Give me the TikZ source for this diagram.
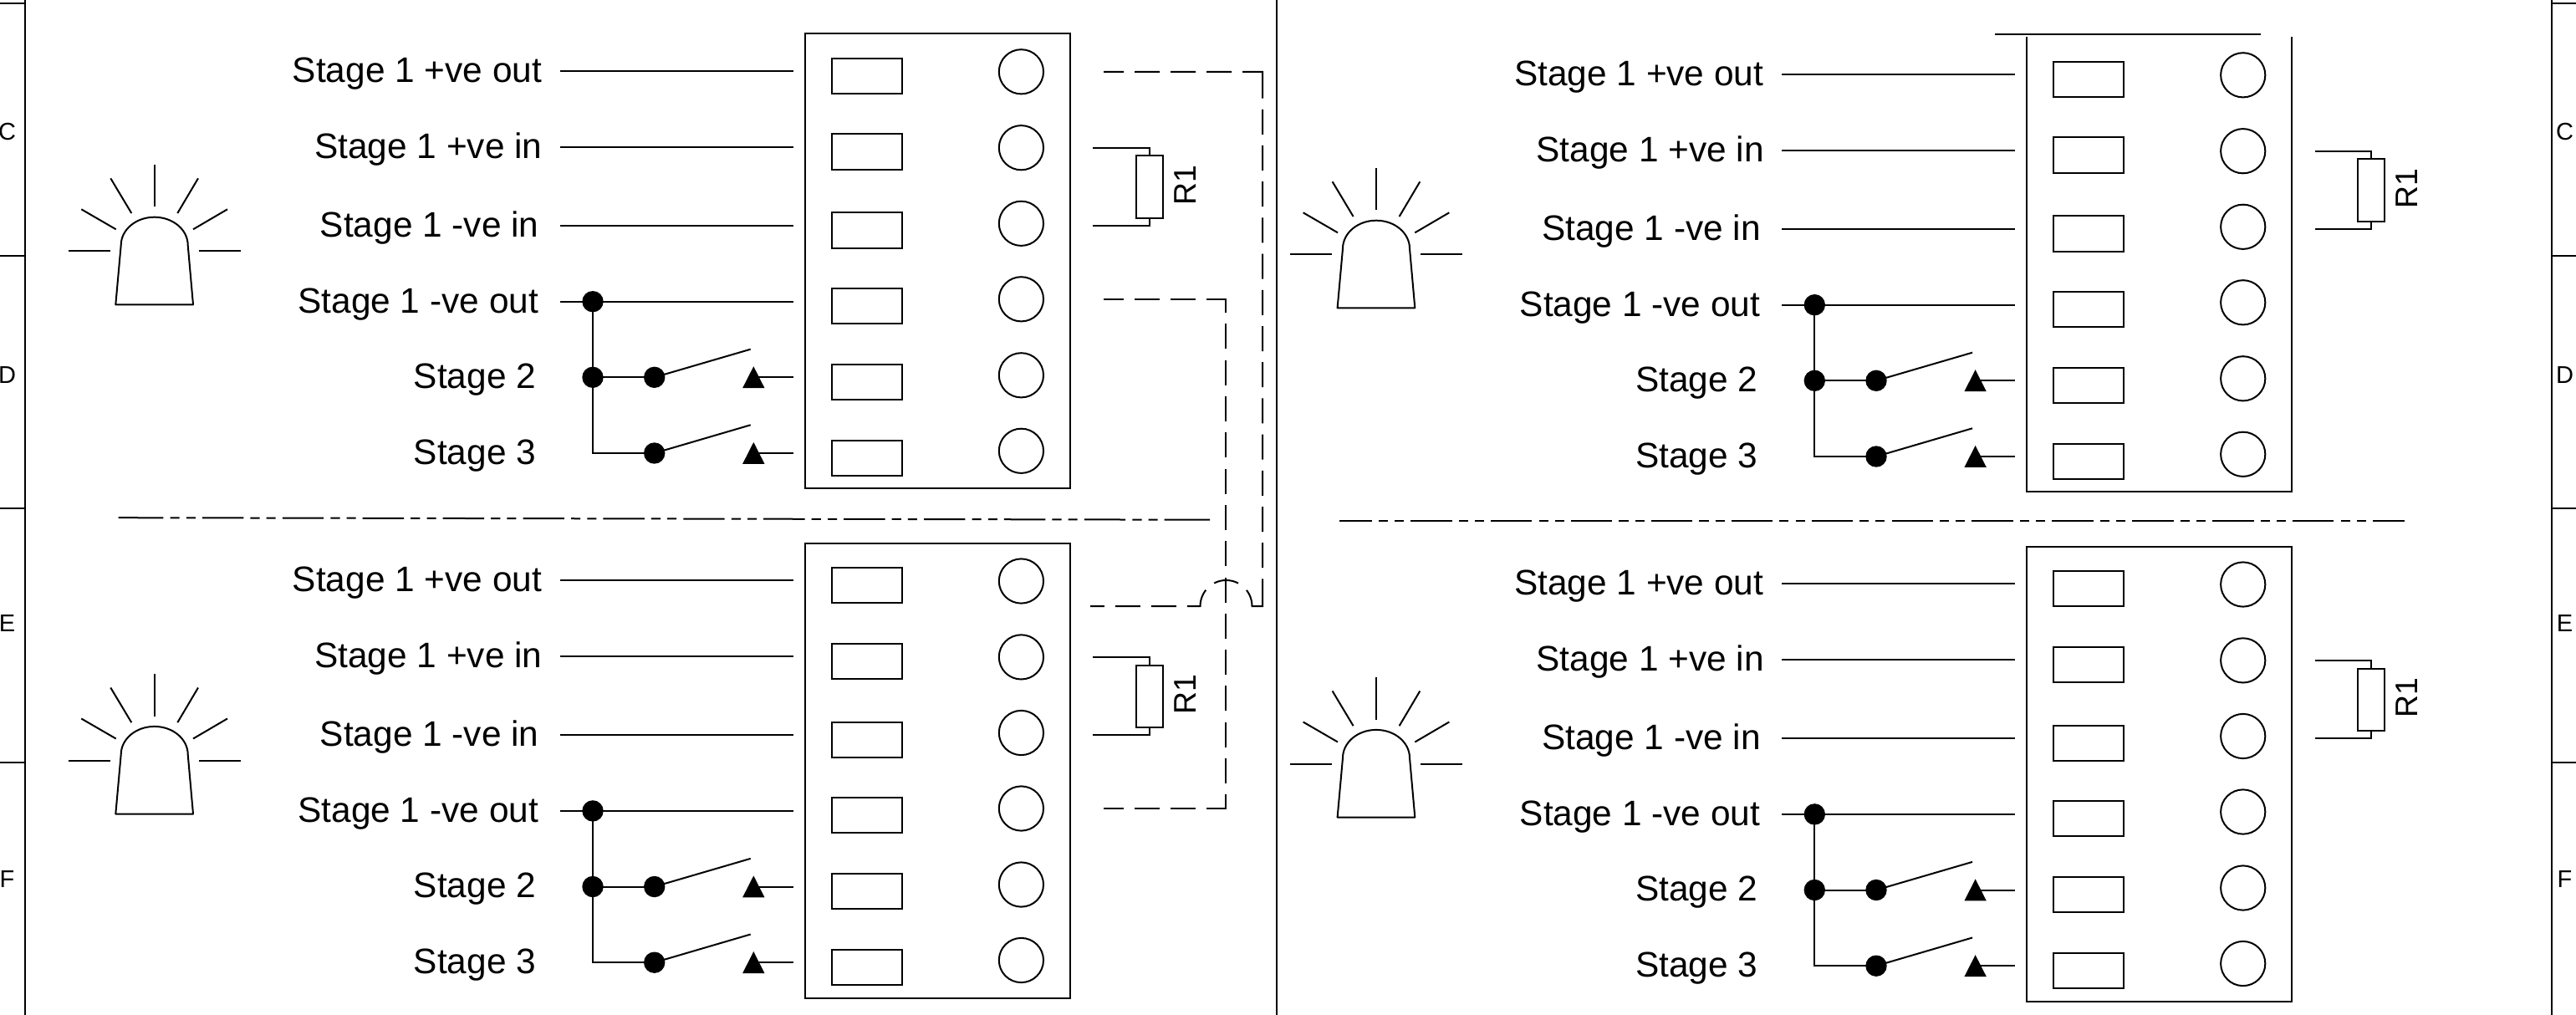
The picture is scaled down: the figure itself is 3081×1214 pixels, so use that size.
\documentclass[tikz,border=0pt]{standalone}
\usepackage{fontspec}
\setmainfont{Liberation Sans}
\tikzset{
  wire/.style={draw=black,line width=1pt},
  termrect/.style={draw=black,line width=1pt,rectangle,minimum width=42pt,minimum height=21.2pt,inner sep=0pt,outer sep=0pt},
  termcirc/.style={draw=black,line width=1pt,circle,minimum size=26.6pt,inner sep=0pt,outer sep=0pt},
  junction/.style={fill=black,circle,minimum size=12.7pt,inner sep=0pt,outer sep=0pt},
  resbody/.style={draw=black,line width=1pt,rectangle,minimum width=16.2pt,minimum height=37.2pt,inner sep=0pt,outer sep=0pt},
  mainbox/.style={draw=black,line width=1pt,rectangle,minimum width=158.5pt,minimum height=272pt,inner sep=0pt,outer sep=0pt},
  stagelabel/.style={anchor=base east,inner sep=0pt,outer sep=0pt,font=\fontsize{21.2}{25}\selectfont},
  rlabel/.style={anchor=base,rotate=90,inner sep=0pt,outer sep=0pt,font=\fontsize{18.7}{22}\selectfont},
  zonelabel/.style={anchor=center,inner sep=0pt,outer sep=0pt,font=\fontsize{14.5}{17}\selectfont},
  link/.style={draw=black,line width=1pt},
  linkouter/.style={link,dash pattern=on 12pt off 6.5pt on 15pt off 6.5pt on 15pt off 6.5pt on 15pt off 6.5pt on 27.9pt off 6.6pt
    on 15pt off 6.6pt on 15pt off 6.6pt on 15pt off 6.6pt on 15pt off 6.6pt on 15pt off 6.6pt on 15pt off 6.6pt on 15pt off 6.6pt
    on 15pt off 6.6pt on 15pt off 6.6pt on 15pt off 6.6pt on 15pt off 6.6pt on 15pt off 6.6pt on 15pt off 6.6pt
    on 32.85pt off 6.5pt on 15pt off 6.5pt on 18.15pt off 6.5pt on 15pt off 6.5pt on 15pt off 6.5pt on 20pt off 1pt},
  linkinner/.style={link,dash pattern=on 12pt off 6.5pt on 15pt off 6.5pt on 15pt off 6.5pt on 19.8pt off 6.7pt
    on 15pt off 6.65pt on 15pt off 6.65pt on 15pt off 6.65pt on 15pt off 6.65pt on 15pt off 6.65pt on 15pt off 6.65pt on 15pt off 6.65pt
    on 15pt off 6.65pt on 15pt off 6.65pt on 15pt off 6.65pt on 15pt off 6.65pt on 15pt off 6.65pt on 15pt off 6.65pt
    on 20pt off 6.5pt on 15pt off 6.5pt on 15pt off 6.5pt on 20pt off 1pt},
  centreleft/.style={link,dash pattern=on 26.85pt off 4.05pt on 5.6pt off 4.05pt on 5.5pt off 4.05pt
    on 24.7pt off 4.05pt on 5.6pt off 4.05pt on 5.5pt off 4.05pt on 24.7pt off 4.05pt on 5.6pt off 4.05pt on 5.5pt off 4.05pt
    on 24.7pt off 4.05pt on 5.6pt off 4.05pt on 5.5pt off 4.05pt on 24.7pt off 4.05pt on 5.6pt off 4.05pt on 5.5pt off 4.05pt
    on 24.7pt off 4.05pt on 5.6pt off 4.05pt on 5.5pt off 4.05pt on 24.7pt off 4.05pt on 5.6pt off 4.05pt on 5.5pt off 4.05pt
    on 24.7pt off 4.05pt on 5.6pt off 4.05pt on 5.5pt off 4.05pt on 24.7pt off 4.05pt on 5.6pt off 4.05pt on 5.5pt off 4.05pt
    on 24.7pt off 4.05pt on 5.6pt off 4.05pt on 5.5pt off 4.05pt on 24.7pt off 4.05pt on 5.6pt off 4.05pt on 5.5pt off 4.05pt
    on 24.7pt off 4.05pt on 5.6pt off 4.05pt on 5.5pt off 4.05pt on 24.7pt off 4.05pt on 5.6pt off 4.05pt on 5.5pt off 4.05pt
    on 40pt off 1pt},
  centreright/.style={link,dash pattern=on 24.7pt off 4.05pt on 5.6pt off 4.05pt on 5.5pt off 4.05pt,dash phase=5.55pt},
}
% one complete alarm block: #1 name prefix, #2 x shift, #3 y shift
\newcommand{\alarmblock}[3]{%
\begin{scope}[shift={(#2,#3)}]
  % beacon
  \draw[wire,line join=round] (138.3,364.3) -- (144.7,293.3) arc[start angle=180,end angle=360,x radius=40,y radius=33.6] -- (231,364.3) -- cycle;
  \draw[wire] (184.7,196.7) -- (184.7,247.3);
  \draw[wire] (132.3,213.3) -- (157.3,255);
  \draw[wire] (97.3,250.3) -- (138.7,274.3);
  \draw[wire] (82,300.3) -- (131.7,300.3);
  \draw[wire] (237,213.3) -- (212.3,255);
  \draw[wire] (272,250.3) -- (231,274.3);
  \draw[wire] (237.7,300.3) -- (287.7,300.3);
  % labels
  \node[stagelabel] (#1t1) at (648,98.7) {Stage 1 +ve out};
  \node[stagelabel] (#1t2) at (648.5,189.6) {Stage 1 +ve in};
  \node[stagelabel] (#1t3) at (644.5,283.3) {Stage 1 -ve in};
  \node[stagelabel] (#1t4) at (644,374.3) {Stage 1 -ve out};
  \node[stagelabel] (#1t5) at (641,464) {Stage 2};
  \node[stagelabel] (#1t6) at (641,555.4) {Stage 3};
  % terminals
  \foreach \i/\ry/\cy in {1/91/85.8,2/181.5/176.7,3/275.5/267.3,4/366/357.8,5/457/448.8,6/547.8/539.3}{
    \node[termrect] (#1r\i) at (1037,\ry) {};
    \node[termcirc] (#1c\i) at (1221.4,\cy) {};
  }
  % wires
  \foreach \i/\wy in {1/84.6,2/175.6,3/269.7}{
    \coordinate (#1a\i) at (670,\wy);
    \coordinate (#1b\i) at (949,\wy);
    \draw[wire] (#1a\i) -- (#1b\i);
  }
  \coordinate (#1a4) at (670,360.7);
  \coordinate (#1b4) at (949,360.7);
  \draw[wire] (#1a4) -- (#1b4);
  \node[junction] (#1j1) at (709,360.7) {};
  \node[junction] (#1j2) at (709,451.3) {};
  \node[junction] (#1j3) at (782.7,451.3) {};
  \node[junction] (#1j4) at (782.7,542) {};
  \draw[wire] (#1j1.center) -- (#1j2.center) -- (#1j3.center);
  \draw[wire] (#1j2.center) |- (#1j4.center);
  \coordinate (#1s2) at (897.7,417.7);
  \coordinate (#1s3) at (897.7,508.3);
  \draw[wire] (#1j3.center) -- (#1s2);
  \draw[wire] (#1j4.center) -- (#1s3);
  \coordinate (#1p2) at (901.3,451.3);
  \coordinate (#1p3) at (901.3,542);
  \coordinate (#1b5) at (949,451.3);
  \coordinate (#1b6) at (949,542);
  \draw[wire] (#1p2) -- (#1b5);
  \draw[wire] (#1p3) -- (#1b6);
  \fill[black] (901.3,438.2) -- (914.5,464.2) -- (888.1,464.2) -- cycle;
  \fill[black] (901.3,528.9) -- (914.5,554.9) -- (888.1,554.9) -- cycle;
  % resistor
  \node[resbody] (#1res) at (1374.8,223.6) {};
  \coordinate (#1q1) at (1307.3,176.8);
  \coordinate (#1q2) at (1307.3,269.6);
  \draw[wire] (#1q1) -| (#1res.north);
  \draw[wire] (#1q2) -| (#1res.south);
  \node[rlabel] (#1rl) at (1430.3,221.5) {R1};
\end{scope}}
\begin{document}
\begin{tikzpicture}[x=0.5pt,y=-0.5pt,line width=1pt]
\useasboundingbox (0,0) rectangle (3081,1214);
% sheet borders
\draw[wire] (30,0) -- (30,1214);
\draw[wire] (3052,0) -- (3052,1214);
\draw[wire] (1526.5,0) -- (1526.5,1214);
\foreach \ty in {4,306,608,912}{
  \draw[wire] (0,\ty) -- (30,\ty);
  \draw[wire] (3052,\ty) -- (3081,\ty);
}
\foreach \nm/\ly in {C/157.5,D/448.5,E/745.5,F/1051.5}{
  \node[zonelabel] (zl\nm) at (8.5,\ly) {\nm};
  \node[zonelabel] (zr\nm) at (3067.5,\ly) {\nm};
}
% blocks
\alarmblock{tl}{0}{0}
\alarmblock{bl}{0}{609.2}
\alarmblock{tr}{1461.3}{4}
\alarmblock{br}{1461.3}{613.2}
% enclosures
\node[mainbox] (boxtl) at (1121.5,312.3) {};
\node[mainbox] (boxbl) at (1121.5,921.5) {};
\node[mainbox] (boxbr) at (2582.8,925.5) {};
\coordinate (tra) at (2386,40.7);
\coordinate (trb) at (2704,40.7);
\draw[wire] (tra) -- (trb);
\draw[wire] (2424,44) -- (2424,588.4) -- (2741,588.4) -- (2741,44);
% centre lines
\coordinate (cla) at (141.7,619.2);
\coordinate (clb) at (1447,621.7);
\draw[centreleft] (cla) -- (clb);
\coordinate (cra) at (1602.3,623.3);
\coordinate (crb) at (2876,623.3);
\draw[centreright] (cra) -- (crb);
% dashed links between blocks
\coordinate (oa) at (1320,85.8);
\coordinate (ob) at (1510,85.8);
\coordinate (oc) at (1510,725);
\coordinate (od) at (1304,725);
\draw[linkouter] (oa) -- (ob) -- (oc) -- (1497.5,725) arc[start angle=0,end angle=-180,radius=31] -- (od);
\coordinate (ia) at (1320,357.7);
\coordinate (ib) at (1466.3,357.7);
\coordinate (ic) at (1466.3,966.7);
\coordinate (id) at (1320,966.7);
\draw[linkinner] (ia) -- (ib) -- (ic) -- (id);
\end{tikzpicture}
\end{document}
